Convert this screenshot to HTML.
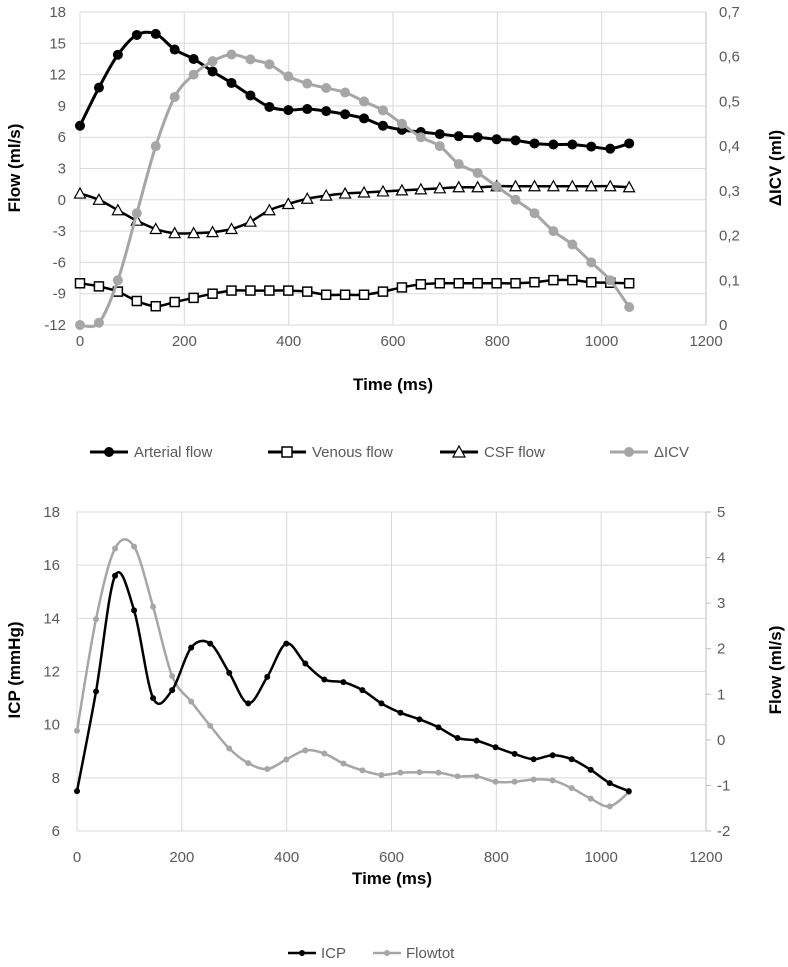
<!DOCTYPE html>
<html><head><meta charset="utf-8"><style>
body{margin:0;background:#fff;width:788px;height:967px;overflow:hidden}
svg{display:block}
text{font-family:"Liberation Sans",sans-serif}
</style></head><body>
<svg id="s" width="788" height="967"></svg>
<script>
const times = Array.from({length:30},(_,i)=>i*36.3);
const arterial = [7.1,10.75,13.9,15.8,15.9,14.4,13.5,12.3,11.2,10.0,8.9,8.6,8.7,8.5,8.2,7.8,7.1,6.7,6.5,6.3,6.1,6.0,5.8,5.7,5.4,5.3,5.3,5.1,4.9,5.4];
const venous = [-8.0,-8.3,-8.8,-9.7,-10.2,-9.8,-9.4,-9.0,-8.7,-8.7,-8.7,-8.7,-8.8,-9.1,-9.1,-9.1,-8.8,-8.4,-8.1,-8.0,-8.0,-8.0,-8.0,-8.0,-7.9,-7.7,-7.7,-7.9,-7.95,-8.0];
const csf = [0.6,0,-1,-2,-2.8,-3.2,-3.2,-3.1,-2.8,-2.1,-1.0,-0.4,0.1,0.4,0.6,0.7,0.8,0.9,1.0,1.1,1.2,1.2,1.3,1.3,1.3,1.3,1.3,1.3,1.3,1.2];
const dicv = [0,0.005,0.10,0.25,0.40,0.51,0.56,0.59,0.605,0.594,0.583,0.556,0.54,0.53,0.52,0.50,0.48,0.45,0.42,0.40,0.36,0.34,0.31,0.28,0.25,0.21,0.18,0.14,0.10,0.04];
const icp = [7.5,11.25,15.6,14.3,11.0,11.3,12.9,13.05,11.95,10.8,11.8,13.05,12.3,11.7,11.6,11.3,10.8,10.45,10.2,9.9,9.5,9.4,9.15,8.9,8.7,8.85,8.7,8.3,7.8,7.5];
const flowtot = [0.2,2.65,4.2,4.24,2.92,1.4,0.84,0.31,-0.19,-0.51,-0.64,-0.43,-0.23,-0.30,-0.52,-0.67,-0.77,-0.72,-0.71,-0.72,-0.80,-0.80,-0.92,-0.92,-0.87,-0.89,-1.06,-1.29,-1.46,-1.15];
const xTicks = [0,200,400,600,800,1000,1200];
const topLeftTicks = [18,15,12,9,6,3,0,-3,-6,-9,-12];
const topRightTicks = ["0,7","0,6","0,5","0,4","0,3","0,2","0,1","0"];
const botLeftTicks = [18,16,14,12,10,8,6];
const botRightTicks = [5,4,3,2,1,0,-1,-2];

const S=document.getElementById('s'),NS='http://www.w3.org/2000/svg';
function el(t,a,p){const e=document.createElementNS(NS,t);for(const k in a)e.setAttribute(k,a[k]);(p||S).appendChild(e);return e;}
function txt(x,y,s,a,p){const e=el('text',Object.assign({x:x,y:y,'font-size':15,fill:'#595959'},a||{}),p);e.textContent=s;return e;}
function smooth(pts){let d='M'+pts[0][0]+','+pts[0][1];for(let i=0;i<pts.length-1;i++){const p0=pts[i-1]||pts[i],p1=pts[i],p2=pts[i+1],p3=pts[i+2]||p2;const c1=[p1[0]+(p2[0]-p0[0])/6,p1[1]+(p2[1]-p0[1])/6],c2=[p2[0]-(p3[0]-p1[0])/6,p2[1]-(p3[1]-p1[1])/6];d+='C'+c1+' '+c2+' '+p2;}return d;}
function marker(type,x,y,col,r,g){
  let m;
  if(type==='circle')m=el('circle',{cx:x,cy:y,r:r,fill:col},g);
  else if(type==='square')m=el('rect',{x:x-r,y:y-r,width:2*r,height:2*r,fill:'#fff',stroke:'#000','stroke-width':1.5},g);
  else m=el('polygon',{points:`${x},${y-r-1} ${x-r-1},${y+r} ${x+r+1},${y+r}`,fill:'#fff',stroke:'#000','stroke-width':1.2},g);
  return m;
}
function series(name,vals,xf,yf,col,w,type,r){
  const g=el('g',{});
  
  
  const pts=vals.map((v,i)=>[xf(times[i]),yf(v)]);
  el('path',{d:smooth(pts),fill:'none',stroke:col,'stroke-width':w},g);
  pts.forEach(p=>{const m=marker(type,p[0],p[1],col,r,g);});
}

// ---------- TOP CHART ----------
const tx0=80,tx1=706,ty0=12,ty1=325;
const txf=t=>tx0+(t/1200)*(tx1-tx0);
const tyf=v=>ty0+(18-v)/30*(ty1-ty0);
const tyr=v=>ty0+(0.7-v)/0.7*(ty1-ty0);
const gt=el('g',{});
topLeftTicks.forEach(v=>{el('line',{x1:tx0,x2:tx1,y1:tyf(v),y2:tyf(v),stroke:'#d9d9d9','stroke-width':1},gt);const t=txt(66,tyf(v)+5,String(v),{'text-anchor':'end'});});
xTicks.forEach(v=>{el('line',{x1:txf(v),x2:txf(v),y1:ty0,y2:ty1,stroke:'#d9d9d9','stroke-width':1},gt);const t=txt(txf(v),346,String(v),{'text-anchor':'middle'});});
el('line',{x1:tx1,x2:tx1,y1:ty0,y2:ty1,stroke:'#bfbfbf'});
topRightTicks.forEach((s,i)=>{const v=0.7-i*0.1;const t=txt(719,tyr(v)+5,s);});
let t1=txt(0,0,'Flow (ml/s)',{'font-size':17,'font-weight':'bold',fill:'#000','text-anchor':'middle',transform:'translate(20,168) rotate(-90)'});
t1=txt(0,0,'ΔICV (ml)',{'font-size':17,'font-weight':'bold',fill:'#000','text-anchor':'middle',transform:'translate(781,168) rotate(-90)'});
t1=txt(393,390,'Time (ms)',{'font-size':17,'font-weight':'bold',fill:'#000','text-anchor':'middle'});

series('venous-flow-series',venous,txf,tyf,'#000',2.5,'square',4.5);
series('csf-flow-series',csf,txf,tyf,'#000',2.5,'triangle',4.5);
series('arterial-flow-series',arterial,txf,tyf,'#000',3,'circle',5);
series('dicv-series',dicv,txf,tyr,'#a6a6a6',3,'circle',5);

[['legend-arterial-flow','Arterial flow',90,'circle','#000'],['legend-venous-flow','Venous flow',268,'square','#000'],['legend-csf-flow','CSF flow',440,'triangle','#000'],['legend-dicv','ΔICV',610,'circle','#a6a6a6']].forEach(L=>{
  const g=el('g',{});
  el('line',{x1:L[2],x2:L[2]+38,y1:452,y2:452,stroke:L[4],'stroke-width':3},g);
  marker(L[3],L[2]+19,452,L[4],5,g);
  txt(L[2]+44,457,L[1],{},g);
});

// ---------- BOTTOM CHART ----------
const bx0=77,bx1=706,by0=512,by1=831;
const bxf=t=>bx0+(t/1200)*(bx1-bx0);
const byf=v=>by0+(18-v)/12*(by1-by0);
const byr=v=>by0+(5-v)/7*(by1-by0);
const gb=el('g',{});
botLeftTicks.forEach(v=>{el('line',{x1:bx0,x2:bx1,y1:byf(v),y2:byf(v),stroke:'#d9d9d9','stroke-width':1},gb);const t=txt(60,byf(v)+5,String(v),{'text-anchor':'end'});});
xTicks.forEach(v=>{el('line',{x1:bxf(v),x2:bxf(v),y1:by0,y2:by1,stroke:'#d9d9d9','stroke-width':1},gb);const t=txt(bxf(v),862,String(v),{'text-anchor':'middle'});});
el('line',{x1:bx1,x2:bx1,y1:by0,y2:by1,stroke:'#bfbfbf'});
botRightTicks.forEach(v=>{el('line',{x1:bx1,x2:bx1+5,y1:byr(v),y2:byr(v),stroke:'#bfbfbf'});const t=txt(717,byr(v)+5,String(v));});
t1=txt(0,0,'ICP (mmHg)',{'font-size':17,'font-weight':'bold',fill:'#000','text-anchor':'middle',transform:'translate(20,670) rotate(-90)'});
t1=txt(0,0,'Flow (ml/s)',{'font-size':17,'font-weight':'bold',fill:'#000','text-anchor':'middle',transform:'translate(781,670) rotate(-90)'});
t1=txt(392,884,'Time (ms)',{'font-size':17,'font-weight':'bold',fill:'#000','text-anchor':'middle'});

series('flowtot-series',flowtot,bxf,byr,'#a6a6a6',2.5,'circle',3);
series('icp-series',icp,bxf,byf,'#000',2.5,'circle',3);

[['legend-icp','ICP',288,'#000'],['legend-flowtot','Flowtot',373,'#a6a6a6']].forEach(L=>{
  const g=el('g',{});
  el('line',{x1:L[2],x2:L[2]+28,y1:953,y2:953,stroke:L[3],'stroke-width':2.5},g);
  el('circle',{cx:L[2]+14,cy:953,r:3,fill:L[3]},g);
  txt(L[2]+33,958,L[1],{},g);
});
</script>
</body></html>
